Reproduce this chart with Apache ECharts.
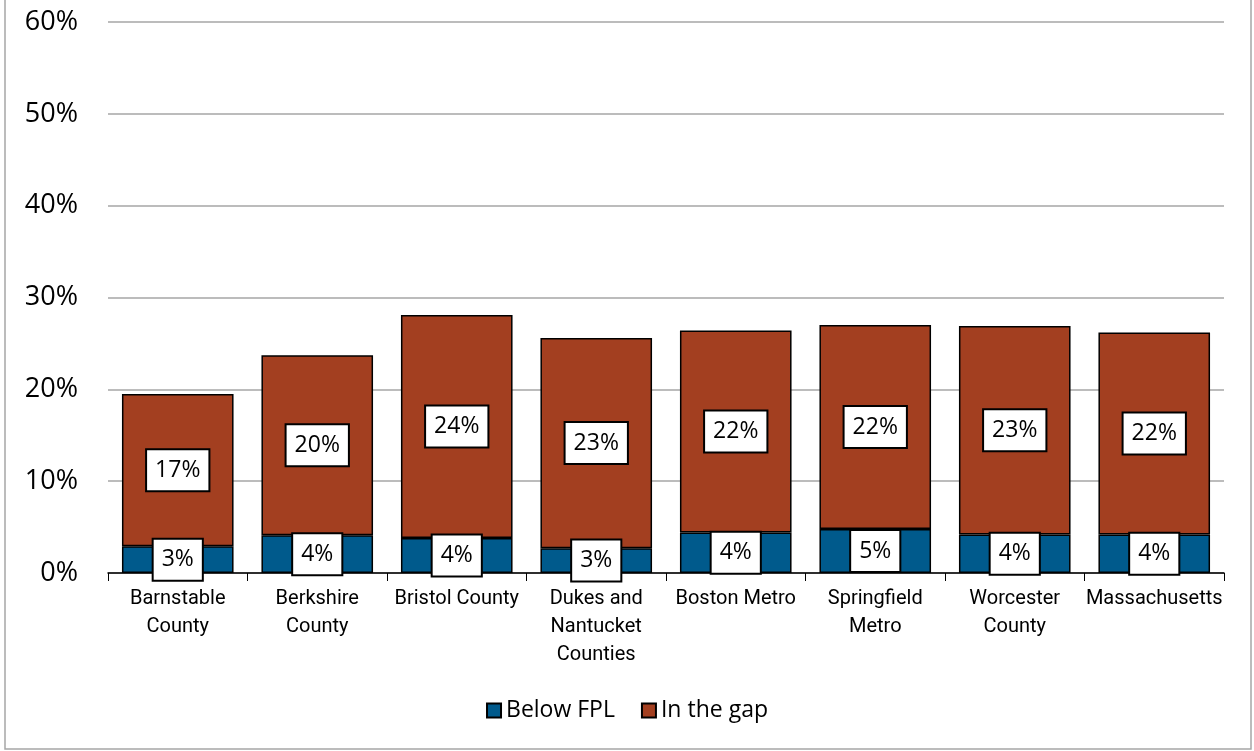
<!DOCTYPE html>
<html>
<head>
<meta charset="utf-8">
<script src="https://cdn.jsdelivr.net/npm/echarts@6/dist/echarts.min.js"></script>
<style>
  html, body { margin: 0; padding: 0; background: #fff; }
  #chart { width: 1254px; height: 751px; }
</style>
</head>
<body>
<div id="chart"></div>
<script>
// categories and values (percent)
const regions = [
  "Barnstable\nCounty",
  "Berkshire\nCounty",
  "Bristol County",
  "Dukes and\nNantucket\nCounties",
  "Boston Metro",
  "Springfield\nMetro",
  "Worcester\nCounty",
  "Massachusetts",
];
const belowFPL = [2.9, 4.1, 3.8, 2.7, 4.4, 4.8, 4.2, 4.2];
const inTheGap = [16.6, 19.6, 24.3, 22.9, 22.0, 22.2, 22.7, 22.0];
const seriesNames = ["Below FPL", "In the gap"];
const yTicks = [0, 10, 20, 30, 40, 50, 60];

const myChart = echarts.init(document.getElementById("chart"));

const boxLabel = {
  show: true,
  position: "inside",
  formatter: (p) => Math.round(p.value) + "%",
  color: "#000",
  fontFamily: "Open Sans",
  fontSize: 23,
  lineHeight: 26,
  backgroundColor: "#fff",
  borderColor: "#000",
  borderWidth: 2,
  padding: [7, 8],
};

const options = {
  animation: false,
  grid: { left: 108, right: 30, top: 22, bottom: 178 },
  legend: {
    bottom: 24,
    left: "center",
    icon: "rect",
    itemWidth: 14,
    itemHeight: 14,
    itemGap: 26,
    textStyle: { fontFamily: "Open Sans", fontSize: 23, color: "#000" },
    data: seriesNames,
  },
  xAxis: {
    type: "category",
    data: regions,
    axisLine: { lineStyle: { color: "#000", width: 1.5 } },
    axisTick: { show: true, length: 8, lineStyle: { color: "#000" } },
    axisLabel: {
      color: "#000",
      fontFamily: "Roboto",
      fontSize: 20,
      lineHeight: 28,
      margin: 12,
      interval: 0,
    },
  },
  yAxis: {
    type: "value",
    min: yTicks[0],
    max: yTicks[yTicks.length - 1],
    interval: 10,
    axisLine: { show: false },
    axisTick: { show: false },
    axisLabel: {
      formatter: "{value}%",
      color: "#000",
      fontFamily: "Open Sans",
      fontSize: 27,
      margin: 30,
    },
    splitLine: { lineStyle: { color: "#a6a6a6", width: 1.5 } },
  },
  series: [
    {
      name: seriesNames[0],
      type: "bar",
      stack: "total",
      data: belowFPL,
      barCategoryGap: "20%",
      itemStyle: { color: "#005a8c", borderColor: "#000", borderWidth: 1.5 },
      label: boxLabel,
    },
    {
      name: seriesNames[1],
      type: "bar",
      stack: "total",
      data: inTheGap,
      barCategoryGap: "20%",
      itemStyle: { color: "#a33f20", borderColor: "#000", borderWidth: 1.5 },
      label: boxLabel,
    },
  ],
  graphic: [
    {
      type: "rect",
      silent: true,
      shape: { x: 5, y: -5, width: 1246, height: 754 },
      style: { fill: "none", stroke: "#a6a6a6", lineWidth: 1.5 },
    },
  ],
};

myChart.setOption(options);
</script>
</body>
</html>
